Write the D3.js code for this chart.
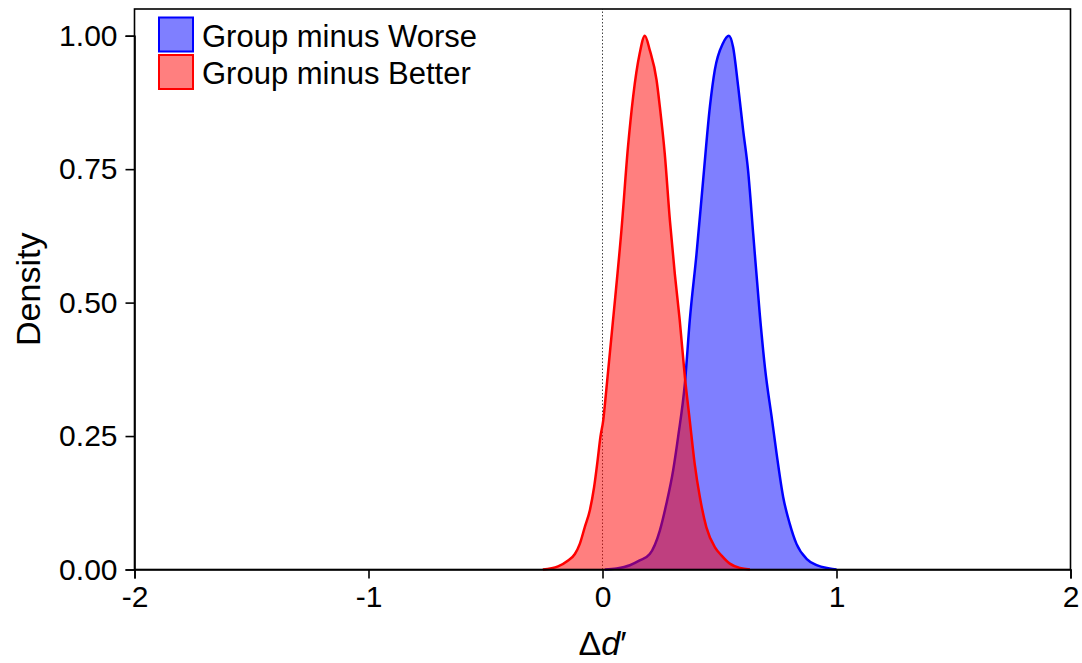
<!DOCTYPE html>
<html>
<head>
<meta charset="utf-8">
<script src="https://cdn.jsdelivr.net/npm/d3@7"></script>
<style>
  body { margin: 0; background: #fff; }
  svg { display: block; font-family: "Liberation Sans", Arial, sans-serif; }
</style>
</head>
<body>
<svg id="chart" width="1082" height="663"></svg>
<script>
// posterior densities of the difference in d'
const betterX = [-0.255, -0.19, -0.147, -0.118, -0.097, -0.076, -0.054, -0.036, -0.021, -0.009, 0.003, 0.017, 0.045, 0.081, 0.109, 0.131, 0.159, 0.181, 0.202, 0.231, 0.245, 0.266, 0.288, 0.309, 0.330, 0.352, 0.373, 0.394, 0.416, 0.444, 0.48, 0.509, 0.544, 0.587, 0.63];
const betterY = [0, 0.006, 0.017, 0.029, 0.048, 0.079, 0.111, 0.154, 0.204, 0.248, 0.279, 0.34, 0.467, 0.636, 0.792, 0.886, 0.967, 1.0, 0.973, 0.917, 0.867, 0.779, 0.654, 0.554, 0.467, 0.361, 0.279, 0.198, 0.136, 0.079, 0.042, 0.026, 0.011, 0.003, 0];

const worseX = [0.01, 0.06, 0.117, 0.159, 0.202, 0.245, 0.273, 0.302, 0.323, 0.352, 0.373, 0.402, 0.43, 0.459, 0.48, 0.515, 0.54, 0.558, 0.58, 0.601, 0.622, 0.644, 0.672, 0.694, 0.725, 0.744, 0.772, 0.80, 0.829, 0.872, 0.915, 0.97, 1.0];
const worseY = [0, 0.002, 0.008, 0.017, 0.029, 0.073, 0.123, 0.186, 0.248, 0.348, 0.467, 0.592, 0.729, 0.867, 0.936, 0.986, 1.0, 0.979, 0.904, 0.823, 0.748, 0.629, 0.479, 0.379, 0.279, 0.217, 0.136, 0.086, 0.048, 0.020, 0.008, 0.002, 0];

const xTicks = [-2, -1, 0, 1, 2];
const yTicks = [0, 0.25, 0.5, 0.75, 1.0];
const legendLabels = ["Group minus Worse", "Group minus Better"];

const svg = d3.select("#chart");
const plotL = 134.5, plotR = 1070.5, plotT = 9, plotB = 569.5;

const x = d3.scaleLinear().domain([-2, 2]).range([plotL, plotR]);
const y = d3.scaleLinear().domain([0, 1.0]).range([plotB, 35.7]);

// zero line
svg.append("line")
  .attr("x1", x(0)).attr("x2", x(0))
  .attr("y1", plotB).attr("y2", plotT)
  .attr("stroke", "#444").attr("stroke-width", 1)
  .attr("stroke-dasharray", "1.5,2");

function drawDensity(xs, ys, fill, stroke) {
  const pts = xs.map((d, i) => [d, ys[i]]);
  const area = d3.area()
    .x(d => x(d[0])).y0(y(0)).y1(d => y(d[1]))
    .curve(d3.curveMonotoneX);
  const line = d3.line()
    .x(d => x(d[0])).y(d => y(d[1]))
    .curve(d3.curveMonotoneX);
  svg.append("path").datum(pts)
    .attr("d", area).attr("fill", fill).attr("fill-opacity", 0.5);
  svg.append("path").datum(pts)
    .attr("d", line).attr("fill", "none")
    .attr("stroke", stroke).attr("stroke-width", 2.5)
    .attr("stroke-linejoin", "round");
}

drawDensity(worseX, worseY, "#0000ff", "#0000ff");
drawDensity(betterX, betterY, "#ff0000", "#ff0000");

// frame
svg.append("rect")
  .attr("x", plotL).attr("y", plotT)
  .attr("width", plotR - plotL).attr("height", plotB - plotT)
  .attr("fill", "none").attr("stroke", "#000").attr("stroke-width", 1.6);

// axes
const xAxis = svg.append("g")
  .attr("transform", `translate(0,${plotB})`)
  .call(d3.axisBottom(x).tickValues(xTicks).tickSize(9).tickPadding(7)
    .tickFormat(d => String(d)));
const yAxis = svg.append("g")
  .attr("transform", `translate(${plotL},0)`)
  .call(d3.axisLeft(y).tickValues(yTicks).tickSize(9).tickPadding(8)
    .tickFormat(d3.format(".2f")));

[xAxis, yAxis].forEach(g => {
  g.select(".domain").attr("stroke-width", 1.6);
  g.selectAll(".tick line").attr("stroke-width", 1.6);
  g.selectAll("text").attr("font-size", 30).attr("font-family", "Liberation Sans, Arial, sans-serif").attr("fill", "#000");
});

// axis titles
svg.append("text")
  .attr("transform", `translate(40,${(plotT + plotB) / 2}) rotate(-90)`)
  .attr("text-anchor", "middle")
  .attr("font-size", 34)
  .text("Density");

const xt = svg.append("text")
  .attr("x", x(0)).attr("y", 655)
  .attr("text-anchor", "middle")
  .attr("font-size", 34);
xt.append("tspan").text("Δ");
xt.append("tspan").attr("font-style", "italic").text("d");
xt.append("tspan").text("′");

// legend
const legendFill = ["#0000ff", "#ff0000"];
const legend = svg.append("g");
legendLabels.forEach((lab, i) => {
  const yy = 17.5 + i * 37.5;
  legend.append("rect")
    .attr("x", 159).attr("y", yy)
    .attr("width", 34).attr("height", 34)
    .attr("fill", legendFill[i]).attr("fill-opacity", 0.5)
    .attr("stroke", legendFill[i]).attr("stroke-width", 2);
  legend.append("text")
    .attr("x", 202).attr("y", yy + 29)
    .attr("font-size", 31)
    .text(lab);
});
</script>
</body>
</html>
